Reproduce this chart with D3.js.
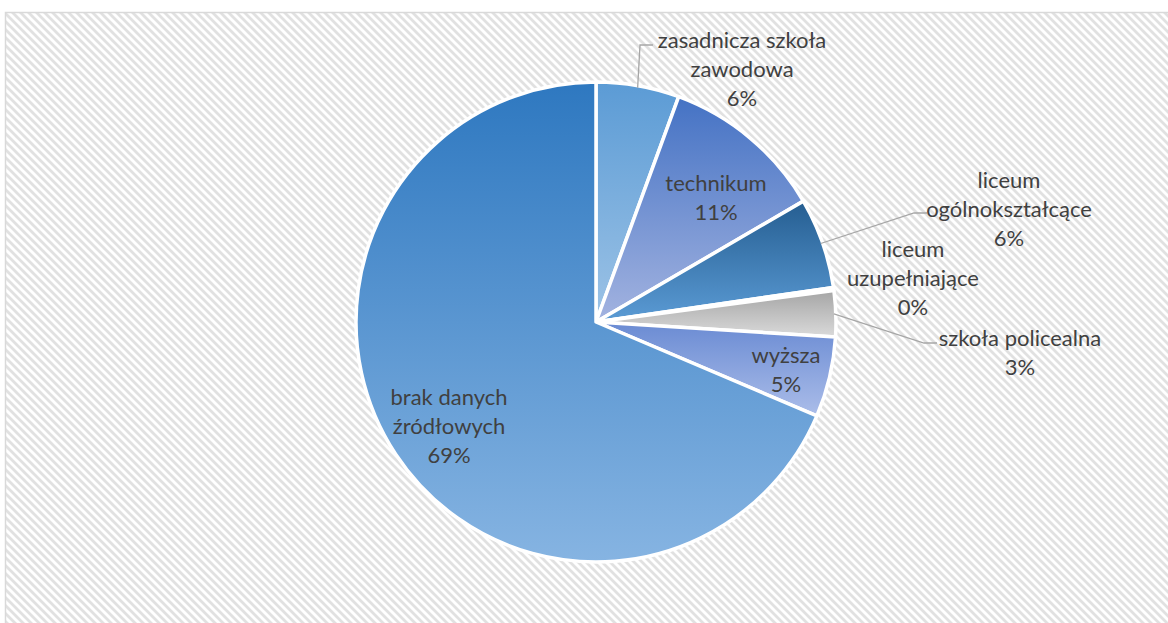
<!DOCTYPE html>
<html>
<head>
<meta charset="utf-8">
<script src="https://cdn.jsdelivr.net/npm/d3@7"></script>
<style>
    html, body { margin: 0; padding: 0; background: #fff; }
    #chart { width: 1168px; height: 623px; }
    .slice-label { font-family: Lato, "Open Sans", sans-serif; font-size: 22px; fill: #404040; }
</style>
</head>
<body>
<div id="chart"></div>
<script>
// Data
const categories = [
    "zasadnicza szkoła zawodowa",
    "technikum",
    "liceum ogólnokształcące",
    "liceum uzupełniające",
    "szkoła policealna",
    "wyższa",
    "brak danych źródłowych"
];
const shares = [5.6, 11.0, 6.1, 0.2, 3.1, 5.4, 68.6];

// Styles / layout (not data)
const gradients = [
    ["#5b9bd5", "#9dc3e6"],
    ["#4472c4", "#a3b3e0"],
    ["#255e91", "#5b9bd5"],
    ["#264478", "#4472c4"],
    ["#a5a5a5", "#dadada"],
    ["#6a8bd3", "#abbde9"],
    ["#2e78c0", "#86b4e2"]
];
// line breaks of each label, and where the label block sits relative to the pie centre
const labelLines = [
    ["zasadnicza szkoła", "zawodowa"],
    ["technikum"],
    ["liceum", "ogólnokształcące"],
    ["liceum", "uzupełniające"],
    ["szkoła policealna"],
    ["wyższa"],
    ["brak danych", "źródłowych"]
];
const labelOffsets = [
    { dx: 146, dy: -253, leader: [57, -277] },
    { dx: 120, dy: -124 },
    { dx: 413, dy: -113, leader: [331, -109] },
    { dx: 317, dy: -44 },
    { dx: 424, dy: 31, leader: [341, 21] },
    { dx: 190, dy: 48 },
    { dx: -147, dy: 104 }
];

const width = 1168, height = 623;
const cx = 596, cy = 322, radius = 240;
const lineHeight = 29;

const svg = d3.select("#chart").append("svg")
    .attr("width", width)
    .attr("height", height);

const defs = svg.append("defs");

// diagonal hatch background
const hatch = defs.append("pattern")
    .attr("id", "hatch")
    .attr("patternUnits", "userSpaceOnUse")
    .attr("width", 8)
    .attr("height", 8);
hatch.append("rect").attr("width", 8).attr("height", 8).attr("fill", "#fff");
hatch.append("path")
    .attr("d", "M-2,-2 L10,10 M-2,6 L2,10 M6,-2 L10,2")
    .attr("stroke", "#e1e1e1")
    .attr("stroke-width", 2.8);

gradients.forEach((g, i) => {
    const lg = defs.append("linearGradient")
        .attr("id", "grad" + i)
        .attr("x1", 0).attr("y1", 0)
        .attr("x2", 0).attr("y2", 1);
    lg.append("stop").attr("offset", "0%").attr("stop-color", g[0]);
    lg.append("stop").attr("offset", "100%").attr("stop-color", g[1]);
});

svg.append("rect")
    .attr("x", 5.5)
    .attr("y", 12.5)
    .attr("width", width + 10)
    .attr("height", height + 10)
    .attr("fill", "url(#hatch)")
    .attr("stroke", "#d9d9d9")
    .attr("stroke-width", 1.5);

const data = categories.map((c, i) => ({ name: c, value: shares[i], index: i }));
const total = d3.sum(shares);

const pie = d3.pie()
    .sort(null)
    .value(d => d.value);

const arc = d3.arc()
    .innerRadius(0)
    .outerRadius(radius);

const arcs = pie(data);

const g = svg.append("g")
    .attr("transform", `translate(${cx},${cy})`);

g.selectAll("path.slice")
    .data(arcs)
    .join("path")
    .attr("class", "slice")
    .attr("d", arc)
    .attr("fill", d => `url(#grad${d.data.index})`)
    .attr("stroke", "#fff")
    .attr("stroke-width", 3.5)
    .attr("stroke-linejoin", "round");

// leader lines for labels placed outside
const rimArc = d3.arc().innerRadius(radius).outerRadius(radius);
arcs.forEach(d => {
    const off = labelOffsets[d.data.index];
    if (!off.leader) return;
    const mid = (d.startAngle + d.endAngle) / 2;
    const start = [Math.sin(mid) * (radius - 2), -Math.cos(mid) * (radius - 2)];
    const end = off.leader;
    const elbow = [end[0] - 13, end[1]];
    g.append("path")
        .attr("d", d3.line()([start, elbow, end]))
        .attr("fill", "none")
        .attr("stroke", "#a6a6a6")
        .attr("stroke-width", 1.3);
});

// labels
arcs.forEach(d => {
    const i = d.data.index;
    const off = labelOffsets[i];
    const lines = labelLines[i].concat([Math.round(d.data.value / total * 100) + "%"]);
    const top = off.dy - (lines.length - 1) * lineHeight / 2;
    const text = g.append("text")
        .attr("class", "slice-label")
        .attr("text-anchor", "middle");
    lines.forEach((line, k) => {
        text.append("tspan")
            .attr("x", off.dx)
            .attr("y", top + k * lineHeight)
            .attr("dy", "0.35em")
            .text(line);
    });
});
</script>
</body>
</html>
